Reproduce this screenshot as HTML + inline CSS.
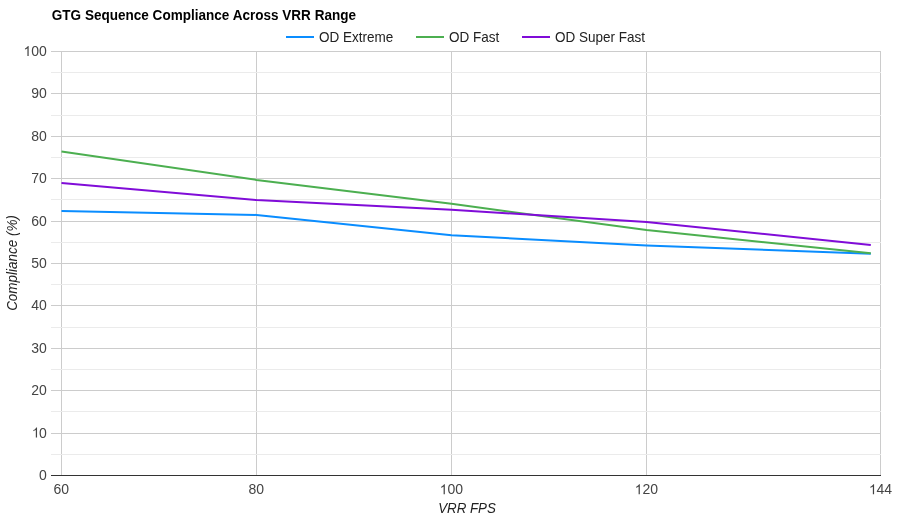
<!DOCTYPE html>
<html><head><meta charset="utf-8"><title>GTG Sequence Compliance Across VRR Range</title>
<style>
html,body{margin:0;padding:0;background:#fff;}
body{width:900px;height:520px;overflow:hidden;font-family:"Liberation Sans",sans-serif;}
svg{display:block;will-change:transform}
text{font-family:"Liberation Sans",sans-serif;}
</style></head><body>
<svg width="900" height="520" viewBox="0 0 900 520">
<rect x="0" y="0" width="900" height="520" fill="#ffffff"/>

<text transform="translate(51.8,19.7) scale(0.968,1)" font-size="14" font-weight="bold" fill="#000000">GTG Sequence Compliance Across VRR Range</text>
<rect x="286" y="36" width="28" height="2" fill="#0a8dff"/>
<text transform="translate(319,41.8) scale(0.965,1)" font-size="14" fill="#222222">OD Extreme</text>
<rect x="416" y="36" width="28" height="2" fill="#4caf50"/>
<text transform="translate(449,41.8) scale(0.965,1)" font-size="14" fill="#222222">OD Fast</text>
<rect x="522" y="36" width="28" height="2" fill="#800cd8"/>
<text transform="translate(555,41.8) scale(0.965,1)" font-size="14" fill="#222222">OD Super Fast</text>
<rect x="61" y="51" width="1" height="425" fill="#cccccc"/>
<rect x="256" y="51" width="1" height="425" fill="#cccccc"/>
<rect x="451" y="51" width="1" height="425" fill="#cccccc"/>
<rect x="646" y="51" width="1" height="425" fill="#cccccc"/>
<rect x="880" y="51" width="1" height="425" fill="#cccccc"/>
<rect x="51" y="454" width="830" height="1" fill="#ebebeb"/>
<rect x="51" y="411" width="830" height="1" fill="#ebebeb"/>
<rect x="51" y="369" width="830" height="1" fill="#ebebeb"/>
<rect x="51" y="327" width="830" height="1" fill="#ebebeb"/>
<rect x="51" y="284" width="830" height="1" fill="#ebebeb"/>
<rect x="51" y="242" width="830" height="1" fill="#ebebeb"/>
<rect x="51" y="199" width="830" height="1" fill="#ebebeb"/>
<rect x="51" y="157" width="830" height="1" fill="#ebebeb"/>
<rect x="51" y="115" width="830" height="1" fill="#ebebeb"/>
<rect x="51" y="72" width="830" height="1" fill="#ebebeb"/>
<rect x="51" y="433" width="830" height="1" fill="#cccccc"/>
<rect x="51" y="390" width="830" height="1" fill="#cccccc"/>
<rect x="51" y="348" width="830" height="1" fill="#cccccc"/>
<rect x="51" y="305" width="830" height="1" fill="#cccccc"/>
<rect x="51" y="263" width="830" height="1" fill="#cccccc"/>
<rect x="51" y="221" width="830" height="1" fill="#cccccc"/>
<rect x="51" y="178" width="830" height="1" fill="#cccccc"/>
<rect x="51" y="136" width="830" height="1" fill="#cccccc"/>
<rect x="51" y="93" width="830" height="1" fill="#cccccc"/>
<rect x="51" y="51" width="830" height="1" fill="#cccccc"/>
<rect x="51" y="475" width="830" height="1" fill="#333333"/>
<path d="M61.5,210.9 L256.5,214.9 L451.5,235.2 L646.5,245.5 L870.8,253.7" fill="none" stroke="#0a8dff" stroke-width="2"/>
<path d="M61.5,151.5 L256.5,179.9 L451.5,203.8 L646.5,230.1 L870.8,253.2" fill="none" stroke="#4caf50" stroke-width="2"/>
<path d="M61.5,182.9 L256.5,200.1 L451.5,209.7 L646.5,222.1 L870.8,244.9" fill="none" stroke="#800cd8" stroke-width="2"/>
<text x="39.01" y="480.0" font-size="14" fill="#444444">0</text>
<path transform="translate(31.83,437.6) scale(0.006836,-0.006836)" d="M763 0H583V1147Q518 1085 412.5 1023T223 930V1104Q373 1175 485 1275T644 1469H763Z" fill="#444444"/><text x="39.01" y="437.6" font-size="14" fill="#444444">0</text>
<text x="31.23" y="395.2" font-size="14" fill="#444444">20</text>
<text x="31.23" y="352.8" font-size="14" fill="#444444">30</text>
<text x="31.23" y="310.4" font-size="14" fill="#444444">40</text>
<text x="31.23" y="268.0" font-size="14" fill="#444444">50</text>
<text x="31.23" y="225.6" font-size="14" fill="#444444">60</text>
<text x="31.23" y="183.2" font-size="14" fill="#444444">70</text>
<text x="31.23" y="140.8" font-size="14" fill="#444444">80</text>
<text x="31.23" y="98.4" font-size="14" fill="#444444">90</text>
<path transform="translate(23.44,56.0) scale(0.006836,-0.006836)" d="M763 0H583V1147Q518 1085 412.5 1023T223 930V1104Q373 1175 485 1275T644 1469H763Z" fill="#444444"/><text x="31.23" y="56.0" font-size="14" fill="#444444">00</text>
<text x="53.51" y="494.3" font-size="14" fill="#444444">60</text>
<text x="248.51" y="494.3" font-size="14" fill="#444444">80</text>
<path transform="translate(439.62,494.3) scale(0.006836,-0.006836)" d="M763 0H583V1147Q518 1085 412.5 1023T223 930V1104Q373 1175 485 1275T644 1469H763Z" fill="#444444"/><text x="447.41" y="494.3" font-size="14" fill="#444444">00</text>
<path transform="translate(634.62,494.3) scale(0.006836,-0.006836)" d="M763 0H583V1147Q518 1085 412.5 1023T223 930V1104Q373 1175 485 1275T644 1469H763Z" fill="#444444"/><text x="642.41" y="494.3" font-size="14" fill="#444444">20</text>
<path transform="translate(868.87,494.3) scale(0.006836,-0.006836)" d="M763 0H583V1147Q518 1085 412.5 1023T223 930V1104Q373 1175 485 1275T644 1469H763Z" fill="#444444"/><text x="876.41" y="494.3" font-size="14" fill="#444444">44</text>
<text transform="translate(467,512.7) scale(0.953,1)" font-size="14" font-style="italic" text-anchor="middle" fill="#222222">VRR FPS</text>
<text transform="translate(17,263) rotate(-90) scale(0.962,1)" font-size="14" font-style="italic" text-anchor="middle" fill="#222222">Compliance (%)</text>
</svg></body></html>
